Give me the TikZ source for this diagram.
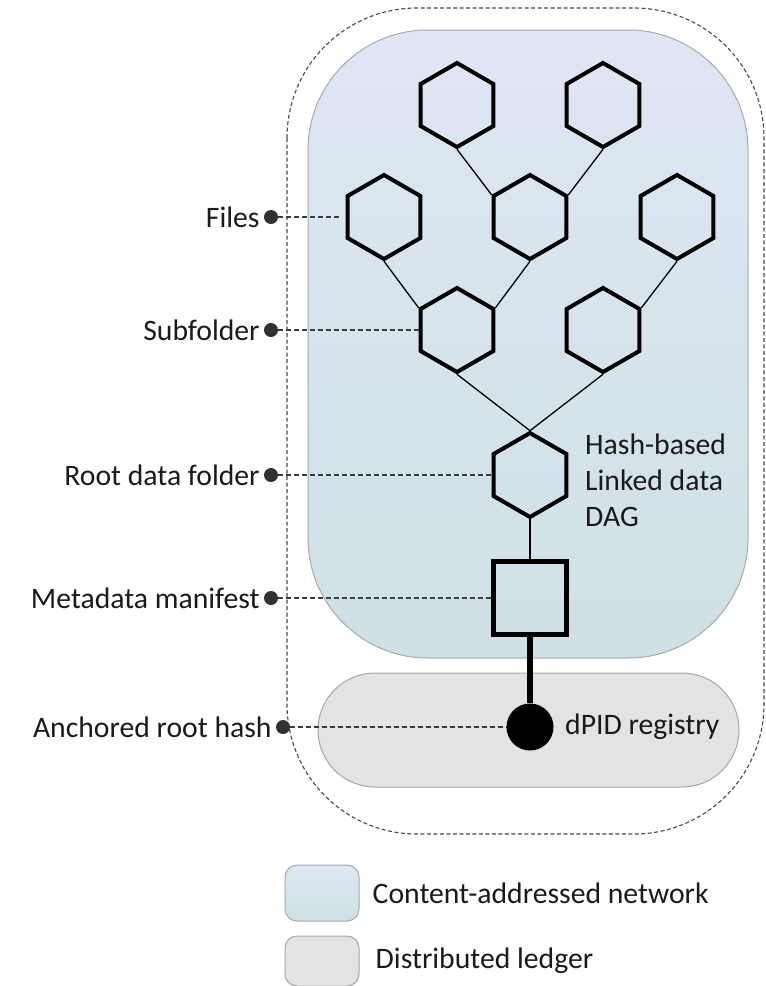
\documentclass[tikz,border=0pt]{standalone}
\usepackage{fontspec}
\setmainfont{Carlito}
\usetikzlibrary{shapes.geometric}
\definecolor{cantop}{HTML}{DEE6F3}
\definecolor{canbot}{HTML}{CFE1E4}
\definecolor{canline}{HTML}{A3AAB2}
\definecolor{ledfill}{HTML}{E3E3E3}
\definecolor{ledline}{HTML}{A6A6A6}
\definecolor{ink}{HTML}{1A1A1A}
\begin{document}
\begin{tikzpicture}[x=1pt,y=-1pt,
  hexnode/.style={regular polygon, regular polygon sides=6, shape border rotate=30, minimum size=84pt, inner sep=0pt, draw=black, line width=4pt, line join=miter},
  link/.style={draw=black, line width=1.3pt},
  leader/.style={draw=ink!85, line width=1.2pt, dash pattern=on 5pt off 3pt},
  dotnode/.style={circle, fill=ink!90, minimum size=14pt, inner sep=0pt},
  lab/.style={font=\fontsize{29.7}{36}\selectfont, text=ink, inner sep=0pt},
  canbox/.style={draw=canline, line width=1pt, top color=cantop, bottom color=canbot},
  ledbox/.style={draw=ledline, line width=1pt, fill=ledfill},
]
\useasboundingbox (0,0) rectangle (766,986);
% outer dashed boundary
\draw[draw=ink!80, line width=1.1pt, dash pattern=on 4pt off 2.5pt, rounded corners=130pt] (287,8) rectangle (764,834);
% regions
\draw[canbox, rounded corners=120pt] (308,30) rectangle (748,658);
\draw[ledbox, rounded corners=57pt] (318,673) rectangle (739,787);
% hexagons
\node[hexnode] (H1) at (457,105) {};
\node[hexnode] (H2) at (603,105) {};
\node[hexnode] (H3) at (384,217) {};
\node[hexnode] (H4) at (530,217) {};
\node[hexnode] (H5) at (677,217) {};
\node[hexnode] (H6) at (457,330) {};
\node[hexnode] (H7) at (603,330) {};
\node[hexnode] (H8) at (530,475) {};
\node[draw=black, line width=5.5pt, minimum size=73pt, inner sep=0pt] (Sq) at (530,598) {};
% links
\draw[link] (H1.270) -- (H4.150);
\draw[link] (H2.270) -- (H4.30);
\draw[link] (H3.270) -- (H6.150);
\draw[link] (H4.270) -- (H6.30);
\draw[link] (H5.270) -- (H7.30);
\draw[link] (H6.270) -- (H8.90);
\draw[link] (H7.270) -- (H8.90);
\draw[link] (H8.270) -- (Sq.north);
% labels on left
\node[dotnode] (dF) at (271,217) {};
\node[dotnode] (dS) at (271,330) {};
\node[dotnode] (dR) at (271,475) {};
\node[dotnode] (dM) at (271,598) {};
\node[dotnode] (dA) at (283,727) {};
\node[lab, anchor=east] (tF) at ([xshift=-4pt]dF.west) {Files};
\node[lab, anchor=east] (tS) at ([xshift=-4pt]dS.west) {Subfolder};
\node[lab, anchor=east] (tR) at ([xshift=-4pt]dR.west) {Root data folder};
\node[lab, anchor=east] (tM) at ([xshift=-4pt]dM.west) {Metadata manifest};
\node[lab, anchor=east] (tA) at ([xshift=-4pt]dA.west) {Anchored root hash};
\draw[leader] (dF.east) -- ([xshift=-4pt]H3.west);
\draw[leader] (dS.east) -- (H6.west);
\draw[leader] (dR.east) -- (H8.west);
\draw[leader] (dM.east) -- (Sq.west);
\coordinate (regc) at (530,727);
\draw[leader] (dA.east) -- (regc);
% registry
\node[circle, fill=black, minimum size=47pt, inner sep=0pt] (Reg) at (regc) {};
\draw[line width=6pt] (Sq.south) -- (Reg.north);
\node[lab, anchor=west] (tReg) at (565,727) {dPID registry};
\node[lab, anchor=north west, align=left] (tDag) at (585,434) {Hash-based\\Linked data\\DAG};
% legend
\node[canbox, rounded corners=12pt, minimum width=74pt, minimum height=56pt, inner sep=0pt] (Lc) at (322,893) {};
\node[ledbox, rounded corners=12pt, minimum width=74pt, minimum height=50pt, inner sep=0pt] (Ll) at (322,961) {};
\node[lab, anchor=west] (tLc) at ([xshift=13pt]Lc.east) {Content-addressed network};
\node[lab, anchor=west] (tLl) at ([xshift=16pt]Ll.east) {Distributed ledger};
\end{tikzpicture}
\end{document}
